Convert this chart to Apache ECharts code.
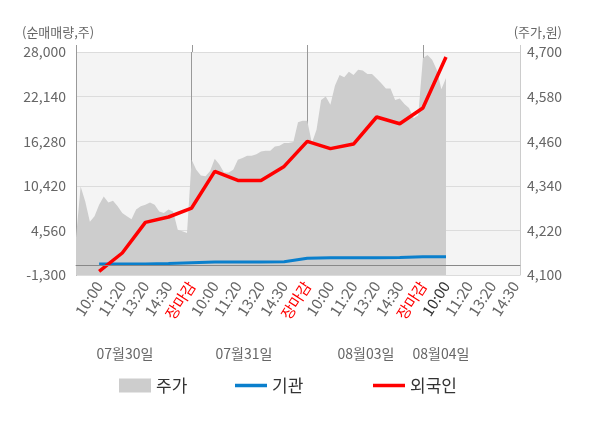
<!DOCTYPE html>
<html>
<head>
<meta charset="utf-8">
<script src="https://cdn.jsdelivr.net/npm/echarts@6/dist/echarts.min.js"></script>
<style>
html, body { margin: 0; padding: 0; background: #fff; }
#chart { width: 600px; height: 428px; }
</style>
</head>
<body>
<div id="chart"></div>
<script>
// data
const days = ['07월30일', '07월31일', '08월03일', '08월04일'];
const slotLabels = ['10:00', '11:20', '13:20', '14:30', '장마감'];
const stepsPerSlot = 5;
const totalSteps = 96;

// price (원), one value per step, day 4 stops early
const price = [
    4200, 4338, 4298, 4243, 4258, 4289, 4311, 4295, 4300, 4285,
    4267, 4258, 4250, 4276, 4285, 4289, 4295, 4289, 4271, 4267,
    4276, 4271, 4222, 4218, 4213,
    4410, 4383, 4368, 4366, 4380, 4413, 4397, 4376, 4376, 4383,
    4410, 4415, 4421, 4421, 4425, 4432, 4434, 4434, 4446, 4448,
    4455, 4455, 4458, 4511, 4515,
    4515, 4455, 4491, 4571, 4580, 4558, 4610, 4638, 4632, 4647,
    4638, 4652, 4650, 4641, 4641, 4629, 4616, 4602, 4602, 4571,
    4575, 4560, 4549, 4522, 4530,
    4683, 4692, 4679, 4652, 4600, 4630
];

// cumulative net buying (주), one value per labelled slot
const institution = [150, 150, 150, 200, 320, 400, 400, 400, 450, 900, 970, 970, 970, 1000, 1100, 1110];
const foreign = [-830, 1590, 5610, 6320, 7500, 12310, 11130, 11130, 12970, 16260, 15300, 15910, 19460, 18580, 20640, 27350];

const categories = [];
for (let i = 0; i <= totalSteps; i++) categories.push('t' + i);

const slotName = (i) => {
    if (i === 0 || i % stepsPerSlot !== 0) return '';
    return slotLabels[(i / stepsPerSlot - 1) % slotLabels.length];
};

const atSlots = (values) => {
    const out = new Array(totalSteps + 1).fill(null);
    values.forEach((v, k) => { out[(k + 1) * stepsPerSlot] = v; });
    return out;
};

const priceData = categories.map((c, i) => (i < price.length ? price[i] : null));
const lastSlot = foreign.length * stepsPerSlot;
const fmt = (v) => v.toLocaleString('en-US');
const font = 'Noto Sans CJK KR';
const lineIcon = 'path://M0,0H32V3.5H0Z';

const chart = echarts.init(document.getElementById('chart'));

const option = {
    animation: false,
    textStyle: { fontFamily: font },
    grid: {
        left: 76, right: 80, top: 52, bottom: 153,
        show: true, backgroundColor: '#f4f4f4', borderWidth: 0
    },
    legend: [
        { data: [{ name: '주가', icon: 'rect' }], left: 114, top: 372 },
        { data: [{ name: '기관', icon: lineIcon }], left: 230, top: 372 },
        { data: [{ name: '외국인', icon: lineIcon }], left: 368, top: 372 }
    ].map((l) => Object.assign(l, {
        itemWidth: 32, itemHeight: 14,
        symbolKeepAspect: true,
        textStyle: { fontSize: 17, color: '#333', fontFamily: font }
    })),
    xAxis: {
        type: 'category',
        data: categories,
        boundaryGap: false,
        axisLine: { lineStyle: { color: '#999' } },
        axisTick: { show: false },
        splitLine: {
            show: true,
            interval: (i) => i > 0 && i < totalSteps && i % (stepsPerSlot * slotLabels.length) === 0,
            lineStyle: { color: '#999' }
        },
        axisLabel: {
            interval: 0,
            rotate: 57,
            fontSize: 15,
            color: '#666',
            margin: 8,
            formatter: (v, i) => {
                const s = slotName(i);
                if (!s) return '';
                if (s === '장마감') return '{close|' + s + '}';
                if (i === lastSlot) return '{now|' + s + '}';
                return s;
            },
            rich: {
                close: { color: '#ff0000', fontSize: 15, fontFamily: font },
                now: { color: '#333', fontSize: 15, fontFamily: font }
            }
        }
    },
    yAxis: [
        {
            type: 'value',
            min: -1300, max: 28000, interval: 5860,
            axisLine: { show: true, lineStyle: { color: '#999' } },
            axisTick: { show: false },
            splitLine: { lineStyle: { color: '#dcdcdc' } },
            axisLabel: { fontSize: 14, color: '#666', margin: 10, formatter: fmt }
        },
        {
            type: 'value',
            position: 'right',
            min: 4100, max: 4700, interval: 120,
            axisLine: { show: true, lineStyle: { color: '#ccc' } },
            axisTick: { show: false },
            splitLine: { show: false },
            axisLabel: { fontSize: 14, color: '#666', margin: 7, formatter: fmt }
        }
    ],
    series: [
        {
            name: '주가',
            type: 'line',
            yAxisIndex: 1,
            data: priceData,
            symbol: 'none',
            lineStyle: { width: 0 },
            itemStyle: { color: '#cdcdcd' },
            areaStyle: { color: '#cdcdcd', opacity: 1 },
            z: 1
        },
        {
            name: '기관',
            type: 'line',
            data: atSlots(institution),
            connectNulls: true,
            symbol: 'none',
            lineStyle: { width: 3, color: '#0a7fcc' },
            itemStyle: { color: '#0a7fcc' },
            markLine: {
                silent: true,
                symbol: ['none', 'none'],
                label: { show: false },
                lineStyle: { color: '#888', width: 1, type: 'solid' },
                data: [{ yAxis: 0 }]
            },
            z: 3
        },
        {
            name: '외국인',
            type: 'line',
            data: atSlots(foreign),
            connectNulls: true,
            symbol: 'none',
            lineStyle: { width: 3.5, color: '#ff0000' },
            itemStyle: { color: '#ff0000' },
            z: 4
        }
    ]
};

chart.setOption(option);

// axis titles, day names and the short line stubs above the plot
const dayX = [125, 244, 366, 441];
const graphics = [
    { type: 'text', left: 22, top: 26, style: { text: '(순매매량,주)', fill: '#666', font: '13px "' + font + '"' } },
    { type: 'text', right: 38, top: 26, style: { text: '(주가,원)', fill: '#666', font: '13px "' + font + '"' } }
];
days.forEach((d, k) => {
    graphics.push({
        type: 'text', x: dayX[k], y: 354,
        style: { text: d, fill: '#666', font: '14px "' + font + '"', align: 'center', verticalAlign: 'middle' }
    });
});
[0, 25, 50, 75, totalSteps].forEach((i) => {
    const x = Math.round(chart.convertToPixel({ xAxisIndex: 0 }, i)) + 0.5;
    graphics.push({
        type: 'line',
        shape: { x1: x, y1: 45, x2: x, y2: 52 },
        style: { stroke: i === totalSteps ? '#ccc' : '#999', lineWidth: 1 }
    });
});
chart.setOption({ graphic: graphics });

window.addEventListener('resize', () => chart.resize());
</script>
</body>
</html>
